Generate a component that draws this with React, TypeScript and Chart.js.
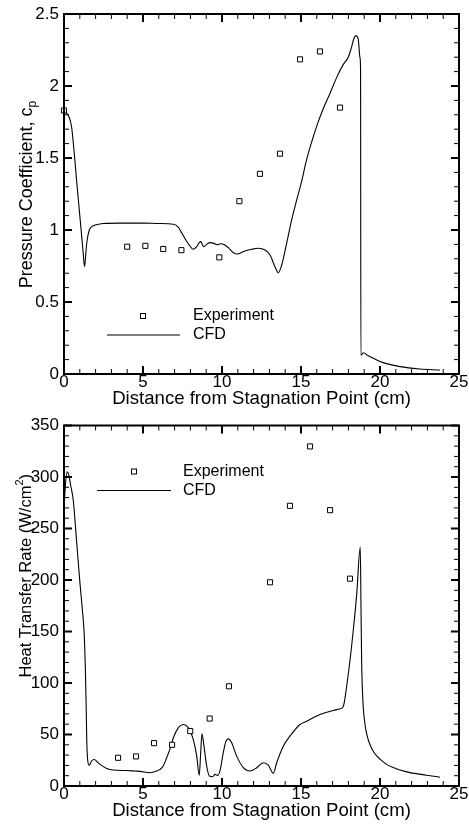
import React, { useEffect, useRef } from "react";
import { Chart, registerables } from "chart.js";

Chart.register(...registerables);

const FONT = "'Liberation Sans', Arial, Helvetica, sans-serif";

// ---------- Pressure coefficient chart data ----------
const cpExpX = [0.0, 4.0, 5.15, 6.28, 7.43, 9.83, 11.1, 12.4, 13.67, 14.94, 16.2, 17.47];
const cpExpY = [1.83, 0.884, 0.89, 0.868, 0.86, 0.81, 1.2, 1.39, 1.53, 2.185, 2.24, 1.85];

const cpCfdX = [
  0.02, 0.17, 0.3, 0.42, 0.5, 0.6, 0.7, 0.8, 0.9, 1.0, 1.1, 1.2, 1.3, 1.37, 1.44, 1.6, 1.86,
  2.2, 2.5, 3.5, 5.0, 6.0, 6.92, 7.23, 7.45, 7.66, 7.97, 8.18, 8.4, 8.56, 8.67, 8.82, 9.03, 9.24,
  9.49, 9.7, 9.92, 10.13, 10.4, 10.72, 10.97, 11.35, 11.88, 12.3, 12.72, 13.04, 13.35, 13.56, 13.78,
  14.09, 14.41, 14.73, 15.0, 15.36, 15.7, 15.99, 16.4, 16.84, 17.26, 17.68, 17.99, 18.2, 18.35, 18.48,
  18.63, 18.73, 18.77, 18.79, 18.95, 19.2, 19.58, 20.2, 21.27, 22.5, 23.8,
];
const cpCfdY = [
  1.83, 1.81, 1.79, 1.75, 1.7, 1.59, 1.47, 1.34, 1.22, 1.1, 0.98, 0.86, 0.745, 0.82, 0.91, 1.0, 1.03,
  1.04, 1.045, 1.048, 1.048, 1.045, 1.04, 1.02, 0.98, 0.94, 0.889, 0.866, 0.884, 0.912, 0.919, 0.884,
  0.9, 0.912, 0.907, 0.898, 0.905, 0.9, 0.877, 0.842, 0.833, 0.85, 0.866, 0.873, 0.861, 0.826, 0.745,
  0.703, 0.757, 0.907, 1.07, 1.21, 1.32, 1.49, 1.62, 1.72, 1.84, 1.95, 2.06, 2.15, 2.2, 2.27, 2.33,
  2.35, 2.32, 2.2, 2.11, 0.13, 0.148, 0.13, 0.109, 0.079, 0.051, 0.035, 0.028,
];

// ---------- Heat transfer chart data ----------
const qExpX = [3.42, 4.56, 5.7, 6.84, 7.99, 9.22, 10.44, 13.04, 14.3, 15.57, 16.84, 18.1];
const qExpY = [27.4, 28.7, 41.6, 40, 53.3, 65.5, 96.8, 197.8, 272, 329.7, 267.8, 201.3];

const qCfdX = [
  0.0, 0.08, 0.2, 0.3, 0.42, 0.59, 0.8, 1.01, 1.18, 1.27, 1.35, 1.4, 1.44, 1.5, 1.6, 1.75, 1.92,
  2.1, 2.28, 2.7, 3.12, 3.97, 4.49, 4.81, 5.44, 5.87, 6.08, 6.28, 6.5, 6.71, 6.92, 7.23, 7.55, 7.87,
  8.18, 8.4, 8.56, 8.65, 8.73, 8.86, 9.03, 9.2, 9.41, 9.56, 9.7, 9.87, 10.08, 10.25, 10.4, 10.61,
  10.93, 11.35, 11.77, 12.2, 12.61, 12.93, 13.25, 13.46, 13.88, 14.3, 14.94, 15.36, 16.2, 17.05,
  17.47, 17.68, 17.89, 18.2, 18.53, 18.75, 18.8, 18.84, 18.92, 19.05, 19.2, 19.37, 19.6, 20.0, 20.42,
  20.84, 21.27, 21.9, 22.95, 23.8,
];
const qCfdY = [
  268, 290, 305, 302, 292, 277, 237, 197, 168, 150, 115, 80, 45, 25, 20, 24.5, 25.8, 23.5, 21,
  17.1, 15.5, 15.0, 14.5, 14.2, 12.9, 14.5, 16.1, 19.4, 27.4, 36, 46.8, 56.5, 59.7, 56.5, 45.2, 29,
  10.3, 32, 50.7, 38.7, 19.4, 9.7, 9.0, 11.3, 10.3, 14.5, 32.3, 43.5, 45.8, 42, 29, 17.8, 14.5, 17.8,
  22.6, 20.3, 12.3, 22.6, 38.7, 48.4, 59.7, 62.9, 69.4, 73.3, 74.9, 77.4, 96.8, 135.5, 187, 232, 170,
  120, 82, 60, 48, 40, 33, 26, 21, 18, 15.5, 13, 10.5, 8.5,
];

// ---------- Axis ticks and labels ----------
const xTickValues = [0, 5, 10, 15, 20, 25];
const cpTickValues = [0, 0.5, 1, 1.5, 2, 2.5];
const qTickValues = [0, 50, 100, 150, 200, 250, 300, 350];
const xAxisTitle = "Distance from Stagnation Point (cm)";
const seriesLabels = ["Experiment", "CFD"];

const framePlugin = {
  id: "frameTicks",
  afterDatasetsDraw(chart: any, _args: any, opts: any) {
    const { ctx, chartArea, scales } = chart;
    const { left, right, top, bottom } = chartArea;
    const xs = scales.x;
    const ys = scales.y;
    ctx.save();
    ctx.strokeStyle = "#000";
    const drawSet = (scale: any, step: number, len: number, width: number, horiz: boolean) => {
      ctx.lineWidth = width;
      ctx.beginPath();
      const n = Math.round((scale.max - scale.min) / step);
      for (let i = 0; i <= n; i++) {
        const p = scale.getPixelForValue(scale.min + i * step);
        if (horiz) {
          ctx.moveTo(p, bottom);
          ctx.lineTo(p, bottom - len);
          ctx.moveTo(p, top);
          ctx.lineTo(p, top + len);
        } else {
          ctx.moveTo(left, p);
          ctx.lineTo(left + len, p);
          ctx.moveTo(right, p);
          ctx.lineTo(right - len, p);
        }
      }
      ctx.stroke();
    };
    drawSet(xs, opts.xMinor, 5, 1, true);
    drawSet(xs, opts.xMajor, 8, 2, true);
    drawSet(ys, opts.yMinor, 5, 1, false);
    drawSet(ys, opts.yMajor, 8, 2, false);
    ctx.lineWidth = 2;
    ctx.strokeRect(left, top, right - left, bottom - top);
    ctx.restore();
  },
};

const legendPlugin = {
  id: "innerLegend",
  afterDraw(chart: any, _args: any, opts: any) {
    const { ctx, chartArea } = chart;
    const l = chartArea.left;
    const t = chartArea.top;
    const ds = chart.data.datasets;
    ctx.save();
    const mx = l + opts.markerDx;
    const my = t + opts.markerDy;
    ctx.fillStyle = "#fff";
    ctx.strokeStyle = "#000";
    ctx.lineWidth = 1;
    ctx.fillRect(mx - 2.5, my - 2.5, 5, 5);
    ctx.strokeRect(mx - 2.5, my - 2.5, 5, 5);
    ctx.beginPath();
    ctx.moveTo(l + opts.lineX0, t + opts.lineDy);
    ctx.lineTo(l + opts.lineX1, t + opts.lineDy);
    ctx.stroke();
    ctx.fillStyle = "#000";
    ctx.font = `16px ${FONT}`;
    ctx.textBaseline = "middle";
    ctx.textAlign = "left";
    ctx.fillText(ds[0].label, l + opts.textDx, my);
    ctx.fillText(ds[1].label, l + opts.textDx, t + opts.lineDy);
    ctx.restore();
  },
};

const yTitlePlugin = {
  id: "richYTitle",
  afterDraw(chart: any, _args: any, opts: any) {
    const { ctx, chartArea } = chart;
    const segs = opts.segments as { text: string; size: number; shift: number }[];
    ctx.save();
    const widths = segs.map((s) => {
      ctx.font = `${s.size}px ${FONT}`;
      return ctx.measureText(s.text).width;
    });
    const total = widths.reduce((a, b) => a + b, 0);
    const cy = (chartArea.top + chartArea.bottom) / 2 + opts.dy;
    ctx.translate(opts.x, cy);
    ctx.rotate(-Math.PI / 2);
    ctx.fillStyle = "#000";
    ctx.textBaseline = "alphabetic";
    ctx.textAlign = "left";
    let u = -total / 2;
    segs.forEach((s, i) => {
      ctx.font = `${s.size}px ${FONT}`;
      ctx.fillText(s.text, u, s.shift);
      u += widths[i];
    });
    ctx.restore();
  },
};

function makeConfig(p: {
  expX: number[];
  expY: number[];
  cfdX: number[];
  cfdY: number[];
  yTicks: number[];
  yMinor: number;
  yMajor: number;
  padTop: number;
  xHeight: number;
  titleBottom: number;
  legend: any;
  yTitle: any;
}) {
  const yMin = p.yTicks[0];
  const yMax = p.yTicks[p.yTicks.length - 1];
  return {
    type: "scatter" as const,
    data: {
      datasets: [
        {
          label: seriesLabels[0],
          data: p.expX.map((x, i) => ({ x, y: p.expY[i] })),
          pointStyle: "rect",
          pointRadius: 3.6,
          pointHoverRadius: 3.6,
          borderColor: "#000",
          backgroundColor: "#fff",
          borderWidth: 1,
          showLine: false,
          clip: false,
          order: 0,
        },
        {
          label: seriesLabels[1],
          data: p.cfdX.map((x, i) => ({ x, y: p.cfdY[i] })),
          showLine: true,
          pointRadius: 0,
          pointHoverRadius: 0,
          borderColor: "#000",
          backgroundColor: "#000",
          borderWidth: 1.1,
          cubicInterpolationMode: "monotone",
          fill: false,
          order: 1,
        },
      ],
    },
    options: {
      responsive: false,
      animation: false,
      events: [],
      layout: { padding: { top: p.padTop, right: 10, left: 0, bottom: 0 } },
      plugins: {
        legend: { display: false },
        tooltip: { enabled: false },
        frameTicks: { xMinor: 1, xMajor: 5, yMinor: p.yMinor, yMajor: p.yMajor },
        innerLegend: p.legend,
        richYTitle: p.yTitle,
      },
      scales: {
        x: {
          type: "linear",
          min: xTickValues[0],
          max: xTickValues[xTickValues.length - 1],
          grid: { display: false, drawTicks: false },
          border: { display: false },
          afterBuildTicks: (s: any) => {
            s.ticks = xTickValues.map((v) => ({ value: v }));
          },
          afterFit: (s: any) => {
            s.height = p.xHeight;
          },
          ticks: {
            font: { family: FONT, size: 17, lineHeight: 1 },
            color: "#000",
            padding: 0,
            maxRotation: 0,
            autoSkip: false,
            callback: (v: any) => String(v),
          },
          title: {
            display: true,
            text: xAxisTitle,
            color: "#000",
            font: { family: FONT, size: 18.6, lineHeight: 1.2 },
            padding: { top: 0, bottom: p.titleBottom },
          },
        },
        y: {
          type: "linear",
          min: yMin,
          max: yMax,
          grid: { display: false, drawTicks: false },
          border: { display: false },
          afterBuildTicks: (s: any) => {
            s.ticks = p.yTicks.map((v) => ({ value: v }));
          },
          afterFit: (s: any) => {
            s.width = 64;
          },
          ticks: {
            font: { family: FONT, size: 17, lineHeight: 1 },
            color: "#000",
            padding: 5,
            autoSkip: false,
            callback: (v: any) => String(v),
          },
        },
      },
    },
    plugins: [framePlugin, legendPlugin, yTitlePlugin],
  };
}

function ChartBox({ config, height }: { config: any; height: number }) {
  const ref = useRef<HTMLCanvasElement | null>(null);
  useEffect(() => {
    if (!ref.current) return;
    const chart = new Chart(ref.current, config);
    return () => chart.destroy();
  }, [config]);
  return <canvas ref={ref} width={469} height={height} style={{ display: "block", width: 469, height }} />;
}

const topConfig = makeConfig({
  expX: cpExpX,
  expY: cpExpY,
  cfdX: cpCfdX,
  cfdY: cpCfdY,
  yTicks: cpTickValues,
  yMinor: 0.1,
  yMajor: 0.5,
  padTop: 14,
  xHeight: 38,
  titleBottom: 2,
  legend: { markerDx: 79, markerDy: 302, lineX0: 43, lineX1: 116, lineDy: 321, textDx: 129 },
  yTitle: {
    x: 31.5,
    dy: 0.5,
    segments: [
      { text: "Pressure Coefficient, c", size: 18, shift: 0 },
      { text: "p", size: 12, shift: 4 },
    ],
  },
});

const bottomConfig = makeConfig({
  expX: qExpX,
  expY: qExpY,
  cfdX: qCfdX,
  cfdY: qCfdY,
  yTicks: qTickValues,
  yMinor: 10,
  yMajor: 50,
  padTop: 13,
  xHeight: 39,
  titleBottom: 3,
  legend: { markerDx: 70, markerDy: 46, lineX0: 33, lineX1: 107, lineDy: 65, textDx: 119 },
  yTitle: {
    x: 30.5,
    dy: -30,
    segments: [
      { text: "Heat Transfer Rate (W/cm", size: 16.5, shift: 0 },
      { text: "2", size: 11, shift: -8 },
      { text: ")", size: 16.5, shift: 0 },
    ],
  },
});

export default function App() {
  useEffect(() => {
    document.body.style.margin = "0";
    document.body.style.background = "#fff";
  }, []);
  return (
    <div style={{ position: "absolute", left: 0, top: 0, width: 469, height: 825, background: "#fff" }}>
      <ChartBox config={topConfig} height={412} />
      <ChartBox config={bottomConfig} height={413} />
    </div>
  );
}
